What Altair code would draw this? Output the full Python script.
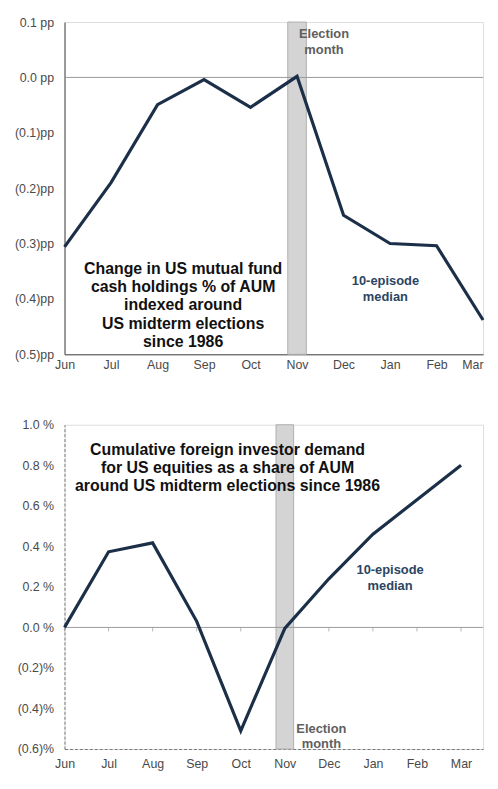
import altair as alt
import pandas as pd

months = ["Jun", "Jul", "Aug", "Sep", "Oct", "Nov", "Dec", "Jan", "Feb", "Mar"]
cash_change = [-0.306, -0.19, -0.049, -0.004, -0.054, 0.002, -0.249, -0.30, -0.304, -0.438]
foreign_demand = [0.0, 0.373, 0.417, 0.03, -0.51, -0.005, 0.24, 0.46, 0.63, 0.80]
election_month = "Nov"

top_ticks = [0.1, 0.0, -0.1, -0.2, -0.3, -0.4, -0.5]
bottom_ticks = [1.0, 0.8, 0.6, 0.4, 0.2, 0.0, -0.2, -0.4, -0.6]

top_title = ["Change in US mutual fund", "cash holdings % of AUM", "indexed around",
             "US midterm elections", "since 1986"]
bottom_title = ["Cumulative foreign investor demand", "for US equities as a share of AUM",
                "around US midterm elections since 1986"]
series_label = ["10-episode", "median"]
election_label = ["Election", "month"]

FONT = "Liberation Sans"
LINE = "#1b2f48"
NAVY_TXT = "#2b4563"
GRAY_TXT = "#606060"
LBL = "#4a4a4a"

idx = list(range(len(months)))
nov = months.index(election_month)
last = idx[-1]
month_expr = "[" + ",".join("'%s'" % m for m in months) + "][datum.value]"

top_df = pd.DataFrame({"i": idx, "month": months, "value": cash_change})
bot_df = pd.DataFrame({"i": idx, "month": months, "value": foreign_demand})


def panel(df, ymin, ymax, xmax, ticks, ylabel_expr, h, w, dash):
    if dash:
        align = "center"
    else:
        align = {"condition": {"test": "datum.value === %d" % last, "value": "right"},
                 "value": "center"}
    x_axis = alt.Axis(values=idx, labelExpr=month_expr, ticks=False, grid=False,
                      title=None, labelFont=FONT, labelFontSize=12.5, labelColor=LBL,
                      labelPadding=4 if not dash else 9, labelFlush=False,
                      labelAlign=align,
                      domainColor="#444" if not dash else "#777",
                      domainDash=[3, 2] if dash else [], labelAngle=0)
    y_axis = alt.Axis(values=ticks, labelExpr=ylabel_expr, ticks=False, grid=False,
                      title=None, labelFont=FONT, labelFontSize=12.5, labelColor=LBL,
                      labelPadding=11, domainColor="#444" if not dash else "#777",
                      domainDash=[3, 2] if dash else [])
    xs = alt.Scale(domain=[0, xmax], nice=False, zero=False)
    ys = alt.Scale(domain=[ymin, ymax], nice=False, zero=False)

    band = alt.Chart().mark_rect(color="#d4d4d4", stroke="#b0b0b0", strokeWidth=1).encode(
        x=alt.datum(nov - 0.2, scale=xs, axis=x_axis),
        x2=alt.datum(nov + 0.2),
        y=alt.value(0), y2=alt.value(h))
    zero = alt.Chart().mark_rule(color="#9a9a9a", strokeWidth=1).encode(
        y=alt.datum(0, scale=ys, axis=y_axis))
    line = alt.Chart(df).mark_line(color=LINE, strokeWidth=3.2, strokeJoin="miter").encode(
        x=alt.X("i:Q", scale=xs, axis=x_axis),
        y=alt.Y("value:Q", scale=ys, axis=y_axis))
    layers = [band, zero, line]
    if dash:
        layers.insert(2, alt.Chart(df).mark_tick(color="#9a9a9a", size=4, thickness=1,
                                                 orient="vertical", yOffset=2).encode(
            x="i:Q", y=alt.datum(0)))
    return layers, h, w


top_yexpr = ("datum.value >= 0 ? format(datum.value, '.1f') + ' pp' : "
             "'(' + format(-datum.value, '.1f') + ')pp'")
bot_yexpr = ("datum.value >= 0 ? format(datum.value, '.1f') + ' %' : "
             "'(' + format(-datum.value, '.1f') + ')%'")

tl, th, tw = panel(top_df, -0.5, 0.1, 9, top_ticks, top_yexpr, 335, 422, False)
top_texts = [
    alt.Chart().mark_text(text=top_title, font=FONT, fontSize=16, fontWeight="bold",
                          color="#111", lineHeight=18.5, baseline="top", align="center").encode(
        x=alt.datum(2.55), y=alt.datum(-0.331)),
    alt.Chart().mark_text(text=election_label, font=FONT, fontSize=13, fontWeight="bold",
                          color=GRAY_TXT, lineHeight=16, baseline="top", align="center").encode(
        x=alt.datum(5.58), y=alt.datum(0.089)),
    alt.Chart().mark_text(text=series_label, font=FONT, fontSize=13, fontWeight="bold",
                          color=NAVY_TXT, lineHeight=16, baseline="top", align="center").encode(
        x=alt.datum(6.9), y=alt.datum(-0.357)),
]
top = alt.layer(*tl, *top_texts).properties(width=tw, height=th)

bl, bh, bw = panel(bot_df, -0.6, 1.0, 9.5, bottom_ticks, bot_yexpr, 327, 422, True)
bot_texts = [
    alt.Chart().mark_text(text=bottom_title, font=FONT, fontSize=16, fontWeight="bold",
                          color="#111", lineHeight=18.5, baseline="top", align="center").encode(
        x=alt.datum(3.7), y=alt.datum(0.916)),
    alt.Chart().mark_text(text=series_label, font=FONT, fontSize=13, fontWeight="bold",
                          color=NAVY_TXT, lineHeight=16, baseline="top", align="center").encode(
        x=alt.datum(7.39), y=alt.datum(0.31)),
    alt.Chart().mark_text(text=election_label, font=FONT, fontSize=13, fontWeight="bold",
                          color=GRAY_TXT, lineHeight=16, baseline="top", align="center").encode(
        x=alt.datum(5.83), y=alt.datum(-0.47)),
]
bottom = alt.layer(*bl, *bot_texts).properties(width=bw, height=bh)

chart = alt.vconcat(top, bottom, spacing=47).properties(
    padding={"left": 5, "top": 4, "right": 0, "bottom": 0}
).configure_view(stroke="#8a8a8a", strokeDash=[3, 2], strokeWidth=1).configure(
    background="white")

chart.save("out.html", embed_options={"renderer": "svg", "actions": False})
